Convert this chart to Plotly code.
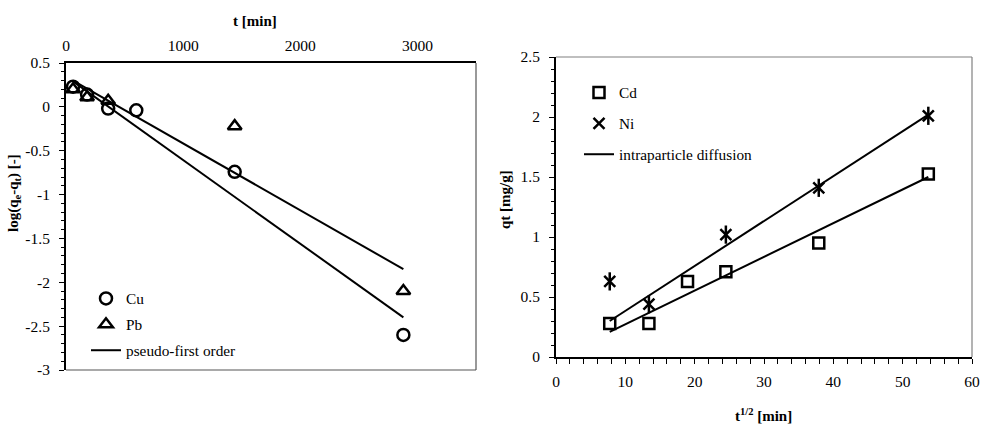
import plotly.graph_objects as go

# ---------------- data ----------------
t_min = [60, 180, 360, 600, 1440, 2880]
cu_log = [0.23, 0.14, -0.02, -0.04, -0.74, -2.60]
pb_t = [60, 180, 360, 1440, 2880]
pb_log = [0.20, 0.11, 0.07, -0.22, -2.10]
fit_t = [60, 2880]
fit_upper = [0.30, -1.85]
fit_lower = [0.29, -2.40]
left_yticks = [0.5, 0, -0.5, -1, -1.5, -2, -2.5, -3]
left_yticklabels = ["0.5", "0", "-0.5", "-1", "-1.5", "-2", "-2.5", "-3"]
left_xticks = [0, 1000, 2000, 3000]

sqrt_t = [7.75, 13.4, 18.97, 24.5, 37.9, 53.7]
cd_q = [0.28, 0.28, 0.63, 0.71, 0.95, 1.525]
ni_t = [7.75, 13.4, 24.5, 37.9, 53.7]
ni_q = [0.63, 0.44, 1.02, 1.41, 2.01]
fit_s = [7.75, 53.7]
fit_ni = [0.30, 2.02]
fit_cd = [0.21, 1.50]
right_xticks = [0, 10, 20, 30, 40, 50, 60]
right_yticks = [0, 0.5, 1, 1.5, 2, 2.5]

W, H = 981, 425
FONT = "Liberation Serif, Times New Roman, serif"

def px_x(p):
    return p / W

def px_y(p):
    return (H - p) / H

fig = go.Figure()
mk_line = dict(color="black", width=2.5)

fig.add_trace(go.Scatter(x=t_min, y=cu_log, mode="markers", name="Cu",
                         marker=dict(symbol="circle-open", size=12, line=mk_line, color="black"),
                         xaxis="x", yaxis="y", legend="legend", legendgroup="a"))
fig.add_trace(go.Scatter(x=pb_t, y=pb_log, mode="markers", name="Pb",
                         marker=dict(symbol="triangle-up-open", size=12, line=mk_line, color="black"),
                         xaxis="x", yaxis="y", legend="legend", legendgroup="b"))
fig.add_trace(go.Scatter(x=fit_t, y=fit_upper, mode="lines", name="pseudo-first order",
                         line=dict(color="black", width=2),
                         xaxis="x", yaxis="y", legend="legend", legendgroup="c"))
fig.add_trace(go.Scatter(x=fit_t, y=fit_lower, mode="lines", name="pseudo-first order",
                         line=dict(color="black", width=2), showlegend=False,
                         xaxis="x", yaxis="y"))

fig.add_trace(go.Scatter(x=sqrt_t, y=cd_q, mode="markers", name="Cd",
                         marker=dict(symbol="square-open", size=11, line=mk_line, color="black"),
                         xaxis="x2", yaxis="y2", legend="legend2", legendgroup="d"))
fig.add_trace(go.Scatter(x=ni_t, y=ni_q, mode="markers", name="Ni",
                         marker=dict(symbol="x-thin-open", size=11, line=dict(color="black", width=2.5), color="black"),
                         xaxis="x2", yaxis="y2", legend="legend2", legendgroup="e"))
fig.add_trace(go.Scatter(x=ni_t, y=ni_q, mode="markers", name="Ni", showlegend=False,
                         marker=dict(symbol="line-ns-open", size=13, line=dict(color="black", width=2.5), color="black"),
                         xaxis="x2", yaxis="y2"))
fig.add_trace(go.Scatter(x=fit_s, y=fit_ni, mode="lines", name="intraparticle diffusion",
                         line=dict(color="black", width=2),
                         xaxis="x2", yaxis="y2", legend="legend2", legendgroup="f"))
fig.add_trace(go.Scatter(x=fit_s, y=fit_cd, mode="lines", name="intraparticle diffusion",
                         line=dict(color="black", width=2), showlegend=False,
                         xaxis="x2", yaxis="y2"))

L_dom_x = [px_x(66), px_x(476)]
L_dom_y = [px_y(370), px_y(63)]
R_dom_x = [px_x(556), px_x(972)]
R_dom_y = [px_y(357), px_y(57)]

tickfont = dict(family=FONT, size=15.5, color="black")
legfont = dict(family=FONT, size=15.3, color="black")
zero_pos = L_dom_y[0] + (0 - (-3)) / 3.5 * (L_dom_y[1] - L_dom_y[0])

fig.update_layout(
    template="none",
    width=W, height=H, margin=dict(l=0, r=0, t=0, b=0, autoexpand=False),
    paper_bgcolor="white", plot_bgcolor="white",
    font=dict(family=FONT, size=15, color="black"),
    xaxis=dict(domain=L_dom_x, anchor="y", side="top", range=[0, 3500], automargin=False,
               tickvals=left_xticks, ticks="", showgrid=False, zeroline=False,
               showline=True, linecolor="black", linewidth=1.5,
               tickfont=tickfont, ticklabelstandoff=4),
    xaxis3=dict(overlaying="x", anchor="free", position=zero_pos, range=[0, 3500], automargin=False,
                dtick=200, tick0=0, ticks="outside", ticklen=4, tickwidth=1,
                tickcolor="black", showticklabels=False, showgrid=False,
                zeroline=False, showline=True, linecolor="black", linewidth=2),
    yaxis=dict(domain=L_dom_y, anchor="x", range=[-3, 0.5], automargin=False,
               tickvals=left_yticks, ticktext=left_yticklabels,
               ticks="outside", ticklen=5, tickwidth=1, tickcolor="black",
               minor=dict(dtick=0.1, ticks="outside", ticklen=3, tickcolor="black", showgrid=False),
               showgrid=False, zeroline=False, showline=True, linecolor="black", linewidth=2,
               tickfont=tickfont, ticklabelstandoff=6),
    xaxis2=dict(domain=R_dom_x, anchor="y2", range=[0, 60], tickvals=right_xticks, automargin=False,
                ticks="outside", ticklen=5, tickwidth=1, tickcolor="black",
                minor=dict(dtick=2, ticks="outside", ticklen=5, tickcolor="black", showgrid=False),
                showgrid=False, zeroline=False, showline=True, linecolor="black", linewidth=2,
                tickfont=tickfont, ticklabelstandoff=4),
    yaxis2=dict(domain=R_dom_y, anchor="x2", range=[0, 2.5], tickvals=right_yticks, automargin=False,
                ticks="outside", ticklen=5, tickwidth=1, tickcolor="black",
                minor=dict(dtick=0.1, ticks="outside", ticklen=3, tickcolor="black", showgrid=False),
                showgrid=False, zeroline=False, showline=True, linecolor="black", linewidth=2,
                tickfont=tickfont, ticklabelstandoff=6),
    legend=dict(x=px_x(86), y=px_y(282), xanchor="left", yanchor="top",
                bgcolor="rgba(0,0,0,0)", borderwidth=0, tracegroupgap=3,
                font=legfont),
    legend2=dict(x=px_x(579), y=px_y(76), xanchor="left", yanchor="top",
                 bgcolor="rgba(0,0,0,0)", borderwidth=0, tracegroupgap=8,
                 font=legfont),
    showlegend=True,
)

fig.add_shape(type="line", xref="x domain", yref="y domain", x0=1, x1=1, y0=0, y1=1,
              line=dict(color="#555555", width=1.2))
fig.add_shape(type="line", xref="x domain", yref="y domain", x0=0, x1=1, y0=0, y1=0,
              line=dict(color="#555555", width=1.2))
fig.add_shape(type="line", xref="x2 domain", yref="y2 domain", x0=1, x1=1, y0=0, y1=1,
              line=dict(color="#808080", width=1.2))
fig.add_shape(type="line", xref="x2 domain", yref="y2 domain", x0=0, x1=1, y0=1, y1=1,
              line=dict(color="#808080", width=1.2))

ann_font = dict(family=FONT, size=15, color="black")
common = dict(xref="paper", yref="paper", showarrow=False, font=ann_font,
              xanchor="center", yanchor="middle")
fig.add_annotation(text="<b>t [min]</b>", x=px_x(255), y=px_y(21), **common)
fig.add_annotation(text="<b>log(q<sub>e</sub>-q<sub>t</sub>) [-]</b>", x=px_x(14), y=px_y(193),
                   textangle=-90, **common)
fig.add_annotation(text="<b>qt [mg/g]</b>", x=px_x(505), y=px_y(199), textangle=-90, **common)
fig.add_annotation(text="<b>t<sup>1/2</sup> [min]</b>", x=px_x(763), y=px_y(415), **common)

post = "document.documentElement.style.margin='0';document.body.style.margin='0';"
fig.write_html("out.html", config={"displayModeBar": False}, post_script=post)
